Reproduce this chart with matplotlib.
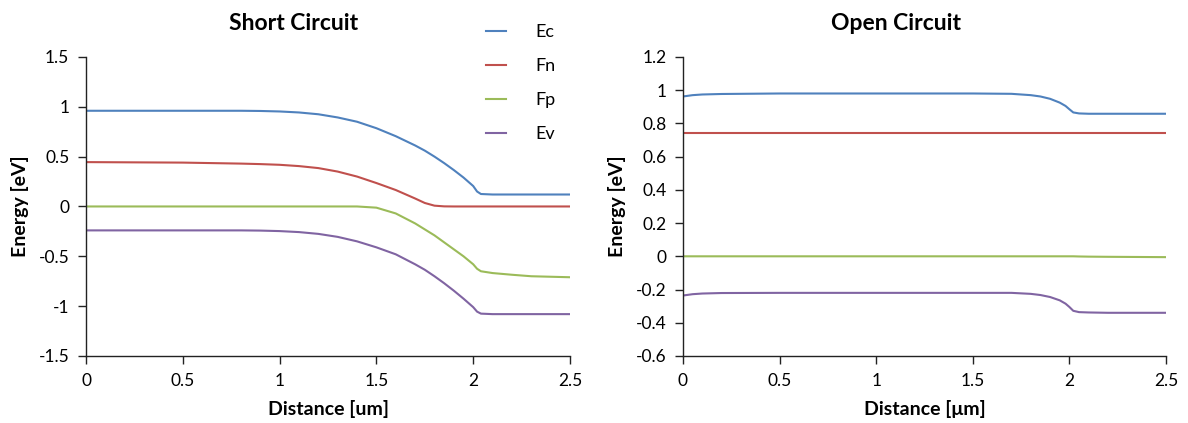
import matplotlib.pyplot as plt

plt.rcParams['font.family'] = ['Lato', 'DejaVu Sans']

# band diagram values read per panel (distance in um, energy in eV)
sc_x = [0, 0.5, 0.8, 0.9, 1.0, 1.1, 1.2, 1.3, 1.4, 1.5, 1.6, 1.7, 1.75, 1.8, 1.85, 1.9, 1.95, 2.0, 2.02, 2.04, 2.1, 2.2, 2.3, 2.5]
sc_ec = [0.96, 0.96, 0.96, 0.958, 0.953, 0.943, 0.925, 0.893, 0.85, 0.785, 0.705, 0.612, 0.56, 0.50, 0.435, 0.365, 0.29, 0.205, 0.15, 0.125, 0.12, 0.12, 0.12, 0.12]
sc_fn = [0.445, 0.44, 0.43, 0.425, 0.418, 0.405, 0.385, 0.35, 0.30, 0.235, 0.165, 0.08, 0.035, 0.008, 0.001, 0.0, 0.0, 0.0, 0.0, 0.0, 0.0, 0.0, 0.0, 0.0]
sc_fp = [0, 0, 0, 0, 0, 0, 0, 0, 0, -0.012, -0.07, -0.17, -0.23, -0.29, -0.36, -0.43, -0.50, -0.58, -0.625, -0.65, -0.668, -0.685, -0.70, -0.71]
sc_ev = [-0.24, -0.24, -0.24, -0.242, -0.247, -0.257, -0.275, -0.305, -0.35, -0.41, -0.48, -0.58, -0.635, -0.70, -0.77, -0.845, -0.925, -1.01, -1.055, -1.075, -1.08, -1.08, -1.08, -1.08]

oc_x = [0, 0.05, 0.1, 0.2, 0.5, 1.0, 1.5, 1.7, 1.8, 1.85, 1.9, 1.95, 1.98, 2.0, 2.02, 2.05, 2.1, 2.2, 2.5]
oc_ec = [0.962, 0.97, 0.974, 0.977, 0.98, 0.98, 0.98, 0.978, 0.97, 0.962, 0.948, 0.925, 0.905, 0.885, 0.866, 0.86, 0.858, 0.858, 0.858]
oc_fn = [0.74] * len(oc_x)
oc_fp = [0, 0, 0, 0, 0, 0, 0, 0, 0, 0, 0, 0, 0, 0, 0, -0.001, -0.002, -0.003, -0.005]
oc_ev = [-0.236, -0.228, -0.224, -0.221, -0.22, -0.22, -0.22, -0.22, -0.226, -0.233, -0.245, -0.265, -0.285, -0.305, -0.328, -0.336, -0.338, -0.34, -0.34]

labels = ['Ec', 'Fn', 'Fp', 'Ev']
colors = ['#4F81BD', '#C0504D', '#9BBB59', '#8064A2']

fig = plt.figure(figsize=(11.88, 4.23), dpi=100)
ax1 = fig.add_axes([86 / 1188, 0.1584, 484 / 1188, 0.707])
ax2 = fig.add_axes([683 / 1188, 0.1584, 483 / 1188, 0.707])

panels = [
    (ax1, sc_x, [sc_ec, sc_fn, sc_fp, sc_ev], (-1.5, 1.5), [-1.5, -1, -0.5, 0, 0.5, 1, 1.5], 'Distance [um]'),
    (ax2, oc_x, [oc_ec, oc_fn, oc_fp, oc_ev], (-0.6, 1.2), [-0.6, -0.4, -0.2, 0, 0.2, 0.4, 0.6, 0.8, 1, 1.2], 'Distance [\u03bcm]'),
]

for ax, xs, series, ylim, yticks, xlabel in panels:
    for ys, lab, col in zip(series, labels, colors):
        ax.plot(xs, ys, color=col, lw=1.5, label=lab)
    ax.set_xlim(0, 2.5)
    ax.set_ylim(*ylim)
    ax.set_xticks([0, 0.5, 1, 1.5, 2, 2.5])
    ax.set_xticklabels(['0', '0.5', '1', '1.5', '2', '2.5'])
    ax.set_yticks(yticks)
    ax.set_yticklabels([('%g' % t) for t in yticks])
    for s in ['top', 'right']:
        ax.spines[s].set_visible(False)
    for s in ['left', 'bottom']:
        ax.spines[s].set_color('#222222')
        ax.spines[s].set_linewidth(1.0)
    ax.tick_params(direction='out', length=6, width=1, color='#222222', labelsize=12.5, pad=6)
    ax.set_xlabel(xlabel, fontsize=14, fontweight='bold', labelpad=8)
    ax.set_ylabel('Energy [eV]', fontsize=14, fontweight='bold', labelpad=7)

fig.text(294 / 1188, 1 - 23 / 423, 'Short Circuit', ha='center', va='center', fontsize=16.5, fontweight='bold')
fig.text(896 / 1188, 1 - 23 / 423, 'Open Circuit', ha='center', va='center', fontsize=16.5, fontweight='bold')

ax1.legend(loc='upper left', bbox_to_anchor=(470 / 1188, 1 - 8 / 423), bbox_transform=fig.transFigure,
           frameon=False, fontsize=13, handlelength=1.1, handletextpad=1.6, labelspacing=1.0)

fig.savefig('out.png', dpi=100)
